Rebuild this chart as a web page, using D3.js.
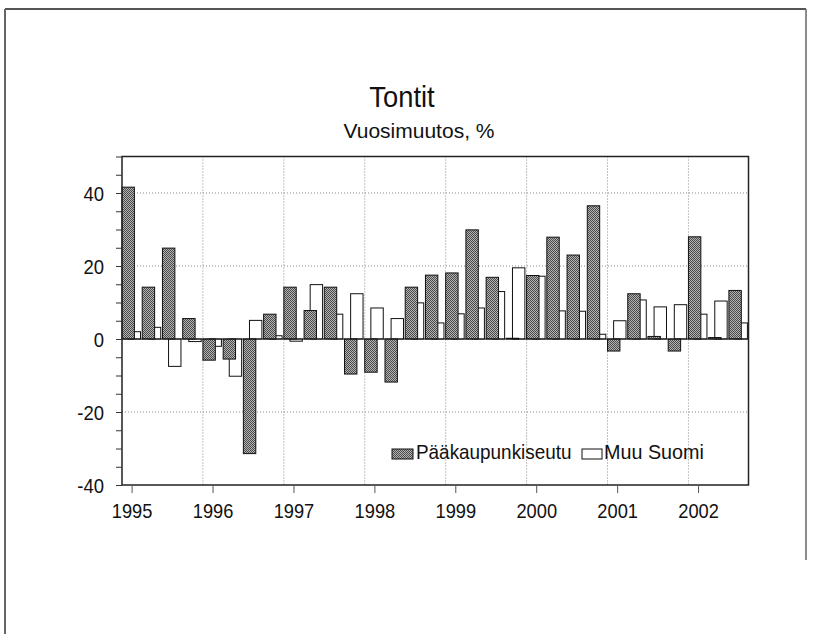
<!DOCTYPE html>
<html><head><meta charset="utf-8">
<script src="https://cdn.jsdelivr.net/npm/d3@7"></script>
<style>
html,body{margin:0;padding:0;background:#fff;}
text{font-family:"Liberation Sans","Arial",sans-serif;fill:#111;}
</style></head>
<body>
<svg id="chart" width="815" height="634"></svg>
<script>
const quarters = ["1995Q1","1995Q2","1995Q3","1995Q4","1996Q1","1996Q2","1996Q3","1996Q4",
"1997Q1","1997Q2","1997Q3","1997Q4","1998Q1","1998Q2","1998Q3","1998Q4",
"1999Q1","1999Q2","1999Q3","1999Q4","2000Q1","2000Q2","2000Q3","2000Q4",
"2001Q1","2001Q2","2001Q3","2001Q4","2002Q1","2002Q2","2002Q3"];
const paakaupunkiseutu = [41.6,14.2,24.9,5.6,-5.8,-5.5,-31.4,6.8,
14.2,7.8,14.2,-9.6,-9.1,-11.8,14.2,17.5,
18.1,29.9,16.9,0.2,17.4,27.9,23.0,36.5,
-3.3,12.4,0.7,-3.3,28.0,0.4,13.3];
const muuSuomi = [2.0,3.2,-7.5,-0.7,-2.0,-10.2,5.1,0.9,
-0.6,14.9,6.8,12.4,8.5,5.6,9.9,4.4,
6.9,8.5,13.0,19.5,17.2,7.7,7.6,1.3,
5.0,10.7,8.8,9.4,6.8,10.4,4.4];
const yearLabels = ["1995","1996","1997","1998","1999","2000","2001","2002"];
const yTicks = [-40,-20,0,20,40];
const seriesNames = ["Pääkaupunkiseutu","Muu Suomi"];
const title = "Tontit";
const subtitle = "Vuosimuutos, %";

const svg = d3.select("#chart");
const L = 122, R = 748.5, T = 156.5, B = 485;
const slotW = 20.23;

function condense(f){
  return sel => sel.each(function(){
    const n = this.getComputedTextLength();
    if (n > 0) d3.select(this).attr("textLength", n*f).attr("lengthAdjust","spacingAndGlyphs");
  });
}

const x = d3.scaleBand().domain(quarters).range([L, L + quarters.length*slotW]).padding(0);
const y = d3.scaleLinear().domain([-40, 50]).range([B, T]);

const defs = svg.append("defs");
const pat = defs.append("pattern").attr("id","hatch").attr("width",2).attr("height",2)
  .attr("patternUnits","userSpaceOnUse");
pat.append("rect").attr("width",2).attr("height",2).attr("fill","#b4b4b4");
pat.append("rect").attr("width",1).attr("height",1).attr("fill","#4a4a4a");
pat.append("rect").attr("x",1).attr("y",1).attr("width",1).attr("height",1).attr("fill","#4a4a4a");

// outer page frame
svg.append("line").attr("x1",5).attr("x2",806).attr("y1",9).attr("y2",9).attr("stroke","#555").attr("stroke-width",2);
svg.append("line").attr("x1",5).attr("x2",5).attr("y1",9).attr("y2",634).attr("stroke","#666").attr("stroke-width",2);
svg.append("line").attr("x1",806).attr("x2",806).attr("y1",9).attr("y2",560).attr("stroke","#666").attr("stroke-width",1.5);

// gridlines
const g = svg.append("g");
[40,20,-20].forEach(v=>{
  g.append("line").attr("x1",L).attr("x2",R).attr("y1",y(v)).attr("y2",y(v))
   .attr("stroke","#888").attr("stroke-width",1).attr("stroke-dasharray","1,2");
});
yearLabels.slice(1).forEach(yr=>{
  const xx = x(yr+"Q1");
  g.append("line").attr("x1",xx).attr("x2",xx).attr("y1",T).attr("y2",B)
   .attr("stroke","#888").attr("stroke-width",1).attr("stroke-dasharray","1,2");
});

// bars
const barW = 12.4, off = 6.1;
svg.append("g").selectAll("rect").data(quarters).join("rect")
  .attr("x",d=>x(d)+off).attr("width",barW)
  .attr("y",(d,i)=>y(Math.max(0,muuSuomi[i])))
  .attr("height",(d,i)=>Math.abs(y(muuSuomi[i])-y(0)))
  .attr("fill","#fff").attr("stroke","#111").attr("stroke-width",1);
svg.append("g").selectAll("rect").data(quarters).join("rect")
  .attr("x",d=>x(d)).attr("width",barW)
  .attr("y",(d,i)=>y(Math.max(0,paakaupunkiseutu[i])))
  .attr("height",(d,i)=>Math.abs(y(paakaupunkiseutu[i])-y(0)))
  .attr("fill","url(#hatch)").attr("stroke","#111").attr("stroke-width",1);

// zero line
svg.append("line").attr("x1",L).attr("x2",R).attr("y1",y(0)).attr("y2",y(0)).attr("stroke","#111").attr("stroke-width",1.2);

// frame
svg.append("rect").attr("x",L).attr("y",T).attr("width",R-L).attr("height",B-T)
  .attr("fill","none").attr("stroke","#222").attr("stroke-width",1.5);

// y axis
const yAxis = d3.axisLeft(y).tickValues(d3.range(-40,51,5)).tickSize(6)
  .tickFormat(d=> yTicks.includes(d) ? d : "");
const ya = svg.append("g").attr("transform",`translate(${L},0)`).call(yAxis);
ya.select(".domain").remove();
ya.selectAll("line").attr("stroke","#333");
ya.selectAll("text").attr("font-size",21).attr("x",-18).attr("dy","0.36em").attr("font-family","Liberation Sans, Arial, sans-serif").call(condense(0.88));

// x axis
const xAxis = d3.axisBottom(x).tickValues(yearLabels.map(v=>v+"Q1")).tickSize(8)
  .tickFormat(d=>d.slice(0,4));
const xa = svg.append("g").attr("transform",`translate(0,${B})`).call(xAxis);
xa.select(".domain").remove();
xa.selectAll("line").attr("stroke","#555");
xa.selectAll("text").attr("font-size",21).attr("y",18).attr("dy","0.71em").attr("font-family","Liberation Sans, Arial, sans-serif").call(condense(0.87));

// titles
svg.append("text").attr("x",402).attr("y",107).attr("text-anchor","middle").attr("font-size",30).text(title).call(condense(0.91));
svg.append("text").attr("x",419).attr("y",138).attr("text-anchor","middle").attr("font-size",21).text(subtitle).call(condense(1.0));

// legend
const lg = svg.append("g");
lg.append("rect").attr("x",392).attr("y",449).attr("width",21).attr("height",10)
  .attr("fill","url(#hatch)").attr("stroke","#111");
lg.append("text").attr("x",416).attr("y",459).attr("font-size",21).text(seriesNames[0]).call(condense(0.9));
lg.append("rect").attr("x",582).attr("y",449).attr("width",20).attr("height",10)
  .attr("fill","#fff").attr("stroke","#111");
lg.append("text").attr("x",604).attr("y",459).attr("font-size",21).text(seriesNames[1]).call(condense(0.94));
</script>
</body></html>
